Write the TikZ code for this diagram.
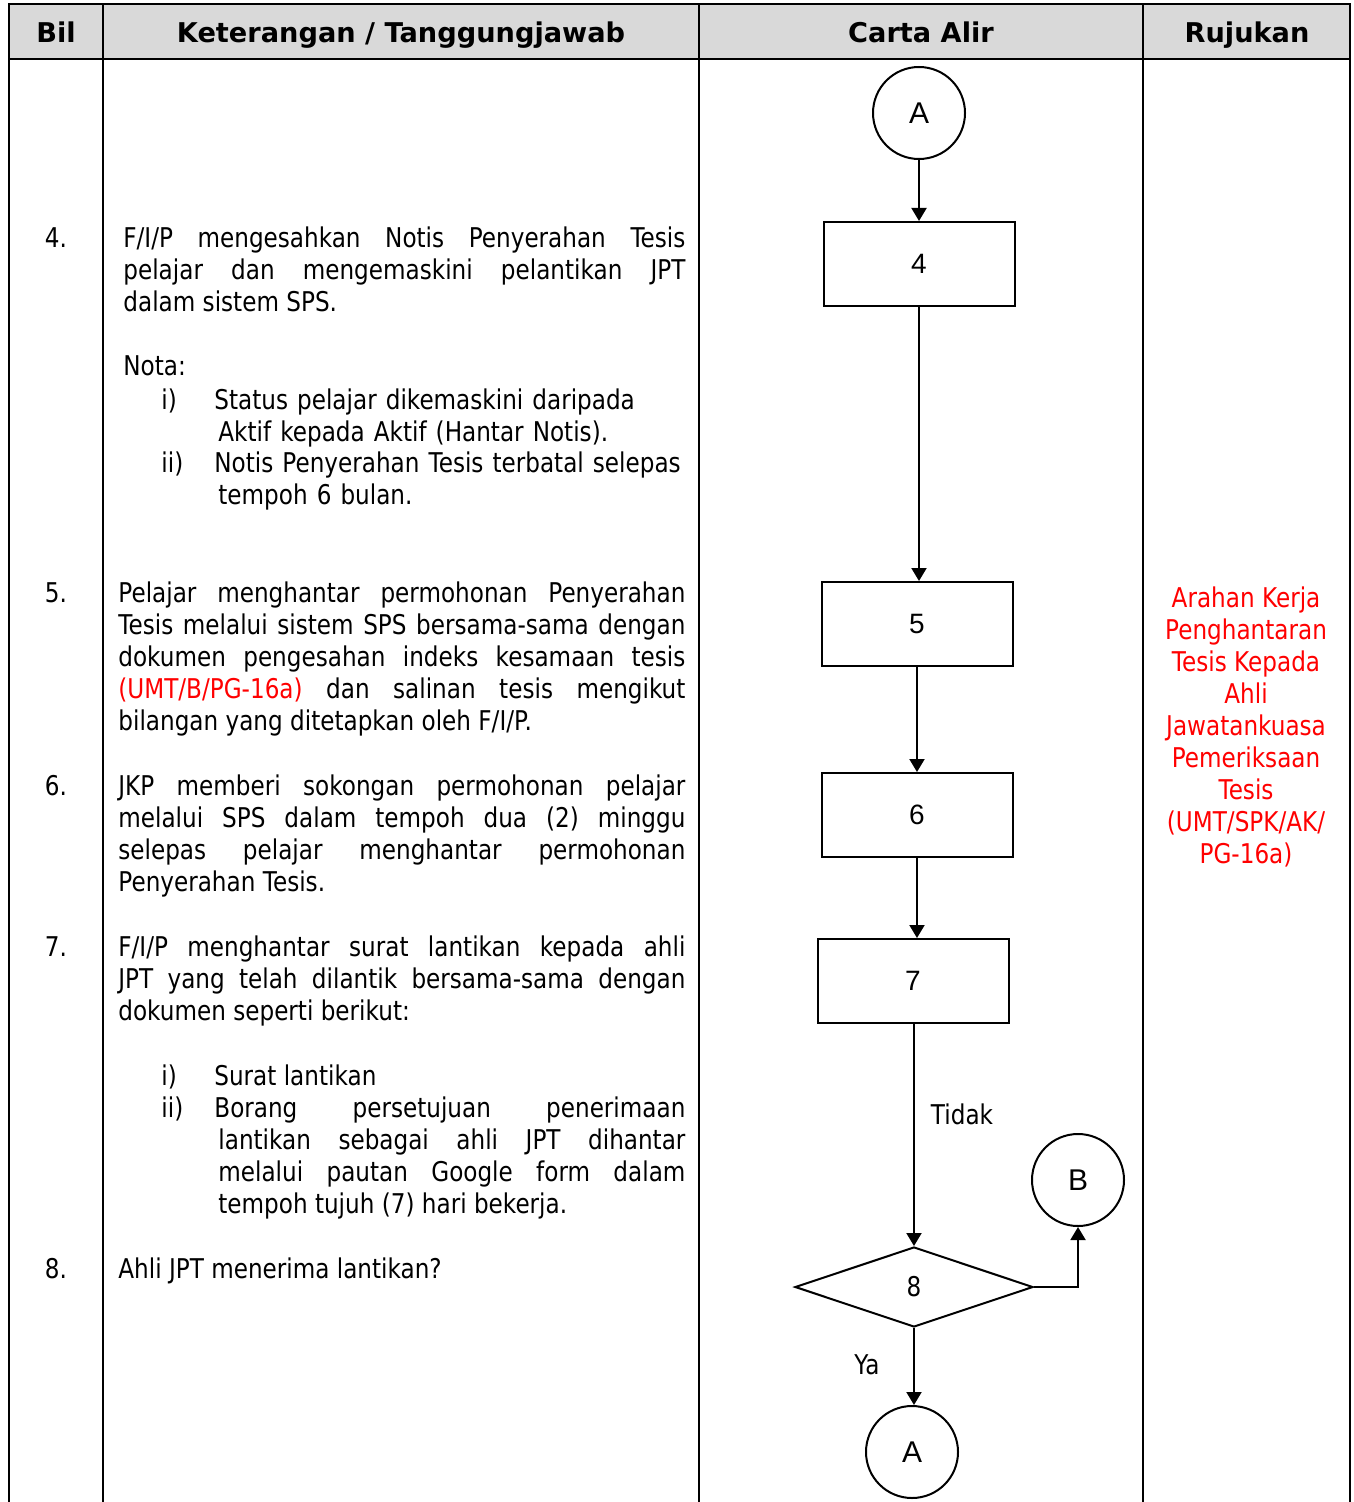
\documentclass[tikz,border=0pt]{standalone}
\usepackage{fontspec}
\setmainfont[FakeStretch=0.85]{DejaVu Sans}
\newfontfamily\headfont{DejaVu Sans}
\newfontfamily\chartfont{Liberation Sans}
\usetikzlibrary{arrows.meta,shapes.geometric}

\begin{document}
\begin{tikzpicture}[x=0.5pt,y=-0.5pt,every node/.style={font=\fontsize{13.6}{16}\selectfont}]
    \tikzset{
      rule/.style={line width=0.75pt},
      process/.style={draw,line width=1pt,minimum width=95.5pt,minimum height=42pt,inner sep=0pt,font=\chartfont\fontsize{14}{16}\selectfont},
      connector/.style={circle,draw,line width=1pt,minimum size=46pt,inner sep=0pt,font=\chartfont\fontsize{15}{16}\selectfont},
      decision/.style={diamond,draw,line width=1pt,minimum width=119pt,minimum height=40pt,inner sep=0pt},
      flow/.style={-{Triangle[length=6.5pt,width=7.5pt]},line width=1pt},
      head/.style={anchor=base,inner sep=0pt,font=\headfont\bfseries\fontsize{13.6}{16}\selectfont},
      desc/.style={anchor=base west,inner sep=0pt,align=justify,
        execute at begin node={\tolerance=10000\hyphenpenalty=10000}},
      plain/.style={anchor=base west,inner sep=0pt,align=left},
      num/.style={anchor=base,inner sep=0pt}
    }
    \useasboundingbox (0,0) rectangle (1353,1502);

    % table
    \fill[gray!30] (9,4) rectangle (1350,59);
    \draw[rule] (9,1502) -- (9,4) -- (1350,4) -- (1350,1502);
    \draw[rule] (9,59) -- (1350,59);
    \foreach \x in {103,699,1143}
      \draw[rule] (\x,4) -- (\x,1502);
    \node[head] (hbil) at (56,43) {Bil};
    \node[head] (hket) at (401,43) {Keterangan / Tanggungjawab};
    \node[head] (hcar) at (921,43) {Carta Alir};
    \node[head] (hruj) at (1247,43) {Rujukan};

    % keterangan
    \node[num] (n4) at (56,248) {4.};
    \node[desc,text width=281pt] (t4) at (123,248) {F/I/P mengesahkan Notis Penyerahan Tesis\linebreak
      pelajar dan mengemaskini pelantikan JPT\linebreak dalam sistem SPS.};
    \node[plain] (nota) at (123,376) {Nota:};
    \node[plain] (r4a) at (161,409) {i)};
    \node[plain,text width=240pt] (s4a) at (214,409) {Status pelajar dikemaskini daripada\\\hspace*{2pt}Aktif kepada Aktif (Hantar Notis).};
    \node[plain] (r4b) at (161,473) {ii)};
    \node[plain,text width=240pt] (s4b) at (214,473) {Notis Penyerahan Tesis terbatal selepas\\\hspace*{2pt}tempoh 6 bulan.};

    \node[num] (n5) at (56,602) {5.};
    \node[desc,text width=283.5pt] (t5) at (118,602) {Pelajar menghantar permohonan Penyerahan\linebreak
      Tesis melalui sistem SPS bersama-sama dengan\linebreak
      dokumen pengesahan indeks kesamaan tesis\linebreak
      \textcolor{red}{(UMT/B/PG-16a)} dan salinan tesis mengikut\linebreak
      bilangan yang ditetapkan oleh F/I/P.};

    \node[num] (n6) at (56,795) {6.};
    \node[desc,text width=283.5pt] (t6) at (118,795) {JKP memberi sokongan permohonan pelajar\linebreak
      melalui SPS dalam tempoh dua (2) minggu\linebreak
      selepas pelajar menghantar permohonan\linebreak
      Penyerahan Tesis.};

    \node[num] (n7) at (56,956) {7.};
    \node[desc,text width=283.5pt] (t7) at (118,956) {F/I/P menghantar surat lantikan kepada ahli\linebreak
      JPT yang telah dilantik bersama-sama dengan\linebreak
      dokumen seperti berikut:};
    \node[plain] (r7a) at (161,1085) {i)};
    \node[plain] (s7a) at (214,1085) {Surat lantikan};
    \node[plain] (r7b) at (161,1117) {ii)};
    \node[desc,text width=235.5pt] (s7b) at (214,1117) {Borang persetujuan penerimaan\linebreak
      \hspace*{2pt}lantikan sebagai ahli JPT dihantar\linebreak
      \hspace*{2pt}melalui pautan Google form dalam\linebreak
      \hspace*{2pt}tempoh tujuh (7) hari bekerja.};

    \node[num] (n8) at (56,1278) {8.};
    \node[plain] (t8) at (118,1278) {Ahli JPT menerima lantikan?};

    % carta alir
    \node[connector] (a1) at (919,113) {A};
    \node[process] (p4) at (919,264) {4};
    \node[process] (p5) at (917,624) {5};
    \node[process] (p6) at (917,815) {6};
    \node[process] (p7) at (913,981) {7};
    \node[decision] (d8) at (914,1287) {8};
    \node[connector] (b1) at (1078,1180) {B};
    \node[connector] (a2) at (912,1452) {A};
    \node (tidak) at (962,1114) {Tidak};
    \node (ya) at (867,1365) {Ya};

    \draw[flow] (a1) -- (p4);
    \draw[flow] (p4.south) -- (p4.south |- p5.north);
    \draw[flow] (p5.south) -- (p6.north);
    \draw[flow] (p6.south) -- (p6.south |- p7.north);
    \draw[flow] (p7.south -| d8.north) -- (d8.north);
    \draw[flow] (d8.east) -| (b1.south);
    \draw[flow] (d8.south) -- (d8.south |- a2.north);

    % rujukan
    \node[red,align=center,inner sep=0pt] (ruj) at (1246,727) {Arahan Kerja\\Penghantaran\\Tesis Kepada\\Ahli\\Jawatankuasa\\Pemeriksaan\\Tesis\\(UMT/SPK/AK/\\PG-16a)};
  \end{tikzpicture}
\end{document}
